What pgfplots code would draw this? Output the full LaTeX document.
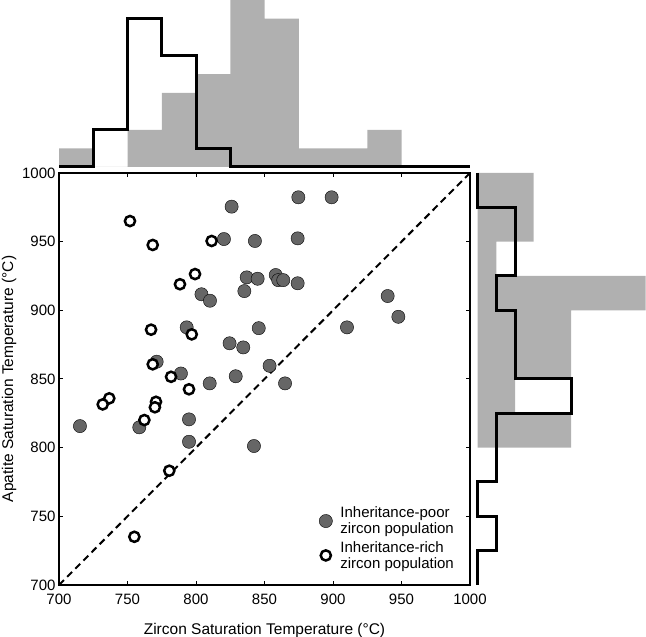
\documentclass[border=0pt]{standalone}
\usepackage{fontspec}
\setmainfont{Liberation Sans}
\usepackage{pgfplots}
\pgfplotsset{compat=1.18}
\definecolor{barGray}{gray}{0.69}
\definecolor{dotGray}{gray}{0.40}

\begin{document}
\begin{tikzpicture}[x=1pt,y=1pt]
\path[use as bounding box] (0,0) rectangle (646,637);

% ---- main scatter: zircon vs apatite saturation temperature ----
\begin{axis}[
  at={(59pt,52pt)}, anchor=south west,
  width=411pt, height=412pt, scale only axis,
  xmin=700, xmax=1000, ymin=700, ymax=1000,
  xtick={700,750,...,1000}, ytick={700,750,...,1000},
  tick align=inside, major tick length=4pt,
  axis line style={line width=1.2pt},
  tick style={line width=1pt, black},
  /pgf/number format/assume math mode=true,
  /pgf/number format/1000 sep={},
  ticklabel style={font=\fontsize{15}{17}\selectfont},
  xticklabel style={anchor=base, yshift=-20pt},
  every axis x label/.style={at={(axis description cs:0.5,-0.1197)}, anchor=base,
    font=\fontsize{15.5}{17}\selectfont},
  every axis y label/.style={at={(axis description cs:-0.1119,0.5)}, rotate=90, anchor=base,
    font=\fontsize{15.5}{17}\selectfont},
  xlabel={Zircon Saturation Temperature (°C)},
  ylabel={Apatite Saturation Temperature (°C)},
  legend style={draw=none, fill=none, at={(axis description cs:0.966,0.032)},
    anchor=south east, inner sep=0pt, row sep=2pt,
    font=\fontsize{15}{16}\selectfont, cells={align=left, anchor=west},
    /tikz/every odd column/.append style={column sep=6pt}},
  legend cell align=left,
]
% 1:1 reference line
\addplot[forget plot, black, line width=2pt, dash pattern=on 7pt off 4.5pt]
  coordinates {(700,700) (1000,1000)};

% inheritance-poor zircon population
\addplot[only marks, mark=*, mark size=6.6pt, mark options={draw=none, fill=dotGray}]
  coordinates {
  (715.3,815.7) (758.6,814.8) (771.3,862.6) (789.0,854.0) (793.2,887.6)
  (794.9,820.6) (794.9,804.3) (804.0,911.7) (810.2,907.0) (810.0,846.8)
  (820.4,951.9) (824.5,876.0) (826.0,975.5) (829.0,852.0) (834.5,873.0)
  (835.3,914.0) (837.0,924.0) (842.3,801.2) (843.0,950.5) (845.0,923.0)
  (845.8,887.0) (853.7,859.6) (858.2,925.7) (860.0,922.0) (863.7,922.0)
  (865.0,846.8) (874.7,982.3) (874.2,952.4) (874.2,919.7) (899.0,982.3)
  (910.2,887.6) (939.9,910.4) (947.7,895.3)
  };
\addlegendentry{Inheritance-poor\\zircon population}

% inheritance-rich zircon population
\addplot[only marks, mark=*, mark size=5.1pt, mark options={line width=2.5pt, draw=black, fill=white}]
  coordinates {
  (751.8,965.0) (768.4,947.6) (811.4,950.5) (799.3,926.4) (788.3,919.0)
  (767.2,885.9) (796.9,882.5) (768.4,860.7) (781.8,851.6) (794.9,842.5)
  (736.7,835.9) (731.9,831.5) (770.8,833.4) (770.0,829.4) (762.3,820.1)
  (780.5,783.2) (755.0,735.1)
  };
\addlegendentry{Inheritance-rich\\zircon population}
\end{axis}

% ---- top histogram: zircon saturation temperature counts ----
\begin{axis}[
  at={(59pt,470pt)}, anchor=south west,
  width=411pt, height=167pt, scale only axis,
  xmin=700, xmax=1000, ymin=0, ymax=9,
  hide axis, clip=false,
]
\addplot[const plot, fill=barGray, draw=none]
  coordinates {(700,1) (725,0) (750,2) (775,4) (800,5) (825,9) (850,8)
               (875,1) (900,1) (925,2) (950,0) (1000,0)} \closedcycle;
\addplot[const plot, black, line width=3pt]
  coordinates {(700,0) (725,2) (750,8) (775,6) (800,1) (825,0) (1000,0)};
\end{axis}

% ---- right histogram: apatite saturation temperature counts ----
\begin{axis}[
  at={(477.7pt,52pt)}, anchor=south west,
  width=168pt, height=412pt, scale only axis,
  xmin=0, xmax=9, ymin=700, ymax=1000,
  hide axis, clip=false,
]
\addplot[fill=barGray, draw=none]
  coordinates {(0,800) (5,800) (5,825) (2,825) (2,850) (5,850) (5,900)
               (9,900) (9,925) (1,925) (1,950) (3,950) (3,1000) (0,1000)};
\addplot[black, line width=3pt]
  coordinates {(0,700) (0,725) (1,725) (1,750) (0,750) (0,775) (1,775)
               (1,825) (5,825) (5,850) (2,850) (2,900) (1,900) (1,925)
               (2,925) (2,975) (0,975) (0,1000)};
\end{axis}
\end{tikzpicture}
\end{document}
